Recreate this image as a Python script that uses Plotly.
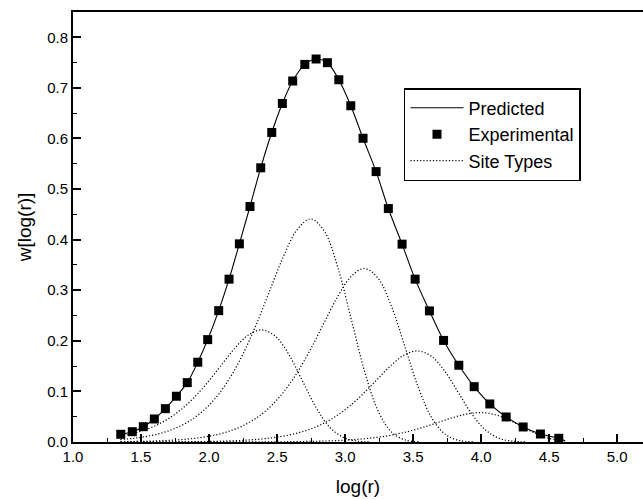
import plotly.graph_objects as go

# Experimental points
exp_x = [1.351, 1.436, 1.517, 1.598, 1.679, 1.760, 1.840, 1.917, 1.990, 2.071,
         2.147, 2.223, 2.301, 2.380, 2.461, 2.539, 2.615, 2.704, 2.787, 2.870,
         2.954, 3.042, 3.132, 3.228, 3.318, 3.419, 3.515, 3.620, 3.724, 3.836,
         3.949, 4.064, 4.184, 4.309, 4.436, 4.571]
exp_y = [0.0152, 0.0204, 0.0303, 0.0455, 0.0659, 0.0905, 0.1174, 0.1577, 0.2024, 0.2597,
         0.3219, 0.3917, 0.4655, 0.5420, 0.6119, 0.6692, 0.7136, 0.7464, 0.7571, 0.7498,
         0.7161, 0.6647, 0.6004, 0.5345, 0.4615, 0.3911, 0.3219, 0.2592, 0.2008, 0.1517,
         0.1094, 0.0752, 0.0495, 0.0297, 0.0158, 0.0073]

# Predicted curve
pred_x = exp_x + [4.618]
pred_y = exp_y + [0.002]

# Site type curves
s1_x = [1.35, 1.387, 1.487, 1.587, 1.687, 1.787, 1.887, 1.987, 2.087, 2.187, 2.287, 2.387,
        2.487, 2.587, 2.687, 2.787, 2.887, 2.987, 3.087, 3.187]
s1_y = [0.0115, 0.0134, 0.0202, 0.0300, 0.0437, 0.0625, 0.0870, 0.1170, 0.1509, 0.1846, 0.2110, 0.2216,
        0.2093, 0.1728, 0.1205, 0.0680, 0.0293, 0.0090, 0.0018, 0.0002]

s2_x = [1.348, 1.448, 1.548, 1.648, 1.748, 1.848, 1.948, 2.048, 2.148, 2.248, 2.348, 2.448,
        2.548, 2.648, 2.748, 2.848, 2.948, 3.048, 3.148, 3.248, 3.348, 3.448, 3.548]
s2_y = [0.0048, 0.0074, 0.0114, 0.0175, 0.0267, 0.0401, 0.0596, 0.0870, 0.1244, 0.1731, 0.2329, 0.3004,
        0.3673, 0.4199, 0.4410, 0.4164, 0.3439, 0.2399, 0.1353, 0.0584, 0.0180, 0.0036, 0.0004]

s3_x = [1.35, 1.542, 1.642, 1.742, 1.842, 1.942, 2.042, 2.142, 2.242, 2.342, 2.442, 2.542, 2.642,
        2.742, 2.842, 2.942, 3.042, 3.142, 3.242, 3.342, 3.442, 3.542, 3.642, 3.742, 3.842, 3.942]
s3_y = [0.0006, 0.0015, 0.0024, 0.0037, 0.0058, 0.0089, 0.0136, 0.0208, 0.0312, 0.0464, 0.0677, 0.0968, 0.1347,
        0.1812, 0.2336, 0.2857, 0.3266, 0.3430, 0.3239, 0.2675, 0.1866, 0.1052, 0.0454, 0.0140, 0.0028, 0.0003]

s4_x = [1.35, 1.732, 1.932, 2.032, 2.132, 2.232, 2.332, 2.432, 2.532, 2.632, 2.732, 2.832, 2.932,
        3.032, 3.132, 3.232, 3.332, 3.432, 3.532, 3.632, 3.732, 3.832, 3.932, 4.032, 4.132, 4.232, 4.332]
s4_y = [0.0001, 0.0003, 0.0008, 0.0012, 0.0019, 0.0030, 0.0047, 0.0072, 0.0109, 0.0164, 0.0243, 0.0355, 0.0508,
        0.0707, 0.0951, 0.1226, 0.1499, 0.1714, 0.1800, 0.1700, 0.1404, 0.0979, 0.0552, 0.0238, 0.0073, 0.0015, 0.0002]

s5_x = [1.35, 1.993, 2.393, 2.593, 2.793, 2.893, 2.993, 3.093, 3.193, 3.293, 3.393, 3.493, 3.593,
        3.693, 3.793, 3.893, 3.993, 4.093, 4.193, 4.293, 4.393, 4.493, 4.593]
s5_y = [0.0, 0.0001, 0.0003, 0.0006, 0.0015, 0.0023, 0.0035, 0.0053, 0.0078, 0.0114, 0.0164, 0.0228, 0.0306,
        0.0395, 0.0483, 0.0552, 0.0580, 0.0548, 0.0452, 0.0316, 0.0178, 0.0077, 0.0024]

sites = [(s1_x, s1_y), (s2_x, s2_y), (s3_x, s3_y), (s4_x, s4_y), (s5_x, s5_y)]

x_ticks = [1.0, 1.5, 2.0, 2.5, 3.0, 3.5, 4.0, 4.5, 5.0]
x_labels = ["1.0", "1.5", "2.0", "2.5", "3.0", "3.5", "4.0", "4.5", "5.0"]
y_ticks = [0.0, 0.1, 0.2, 0.3, 0.4, 0.5, 0.6, 0.7, 0.8]
y_labels = ["0.0", "0.1", "0.2", "0.3", "0.4", "0.5", "0.6", "0.7", "0.8"]

FONT = "Liberation Sans, Arial, sans-serif"

fig = go.Figure()

for i, (sx, sy) in enumerate(sites):
    fig.add_trace(go.Scatter(
        x=sx, y=sy, mode="lines",
        line=dict(color="black", width=1.2, dash="1.2px,2px", shape="spline"),
        name="Site Types", showlegend=(i == 0), legendrank=3, hoverinfo="skip"))

fig.add_trace(go.Scatter(
    x=pred_x, y=pred_y, mode="lines", line=dict(color="black", width=1.1, shape="spline"),
    name="Predicted", legendrank=1))

fig.add_trace(go.Scatter(
    x=exp_x, y=exp_y, mode="markers",
    marker=dict(symbol="square", size=9, color="black"),
    name="Experimental", legendrank=2))

fig.update_layout(
    width=643, height=500,
    margin=dict(l=73, r=0, t=12, b=58),
    paper_bgcolor="white", plot_bgcolor="white",
    font=dict(family=FONT, size=15, color="black"),
    showlegend=True,
    legend=dict(x=0.5807, y=0.823, xanchor="left", yanchor="top",
                bordercolor="black", borderwidth=1.5, bgcolor="white",
                font=dict(size=18, family=FONT), itemwidth=53,
                entrywidth=120, entrywidthmode="pixels",
                tracegroupgap=0, traceorder="normal"),
)

fig.update_xaxes(
    range=[1.0, 5.19], tickmode="array", tickvals=x_ticks, ticktext=x_labels,
    ticks="inside", ticklen=8, tickwidth=1.5, tickcolor="black",
    minor=dict(tickvals=[1.25, 1.75, 2.25, 2.75, 3.25, 3.75, 4.25, 4.75],
               ticks="inside", ticklen=4, tickwidth=1.2, tickcolor="black"),
    showline=True, linecolor="black", linewidth=2, mirror=True,
    showgrid=False, zeroline=False,
    title=dict(text="log(r)", font=dict(size=19, family=FONT), standoff=16),
    tickfont=dict(size=15, family=FONT),
)

fig.update_yaxes(
    range=[0, 0.85], tickmode="array", tickvals=y_ticks, ticktext=y_labels,
    ticks="inside", ticklen=8, tickwidth=1.5, tickcolor="black",
    minor=dict(tickvals=[0.05, 0.15, 0.25, 0.35, 0.45, 0.55, 0.65, 0.75],
               ticks="inside", ticklen=4, tickwidth=1.2, tickcolor="black"),
    showline=True, linecolor="black", linewidth=2, mirror=False,
    showgrid=False, zeroline=False,
    title=dict(text="w[log(r)]", font=dict(size=19, family=FONT), standoff=10),
    tickfont=dict(size=15, family=FONT),
)

fig.write_html("out.html")
